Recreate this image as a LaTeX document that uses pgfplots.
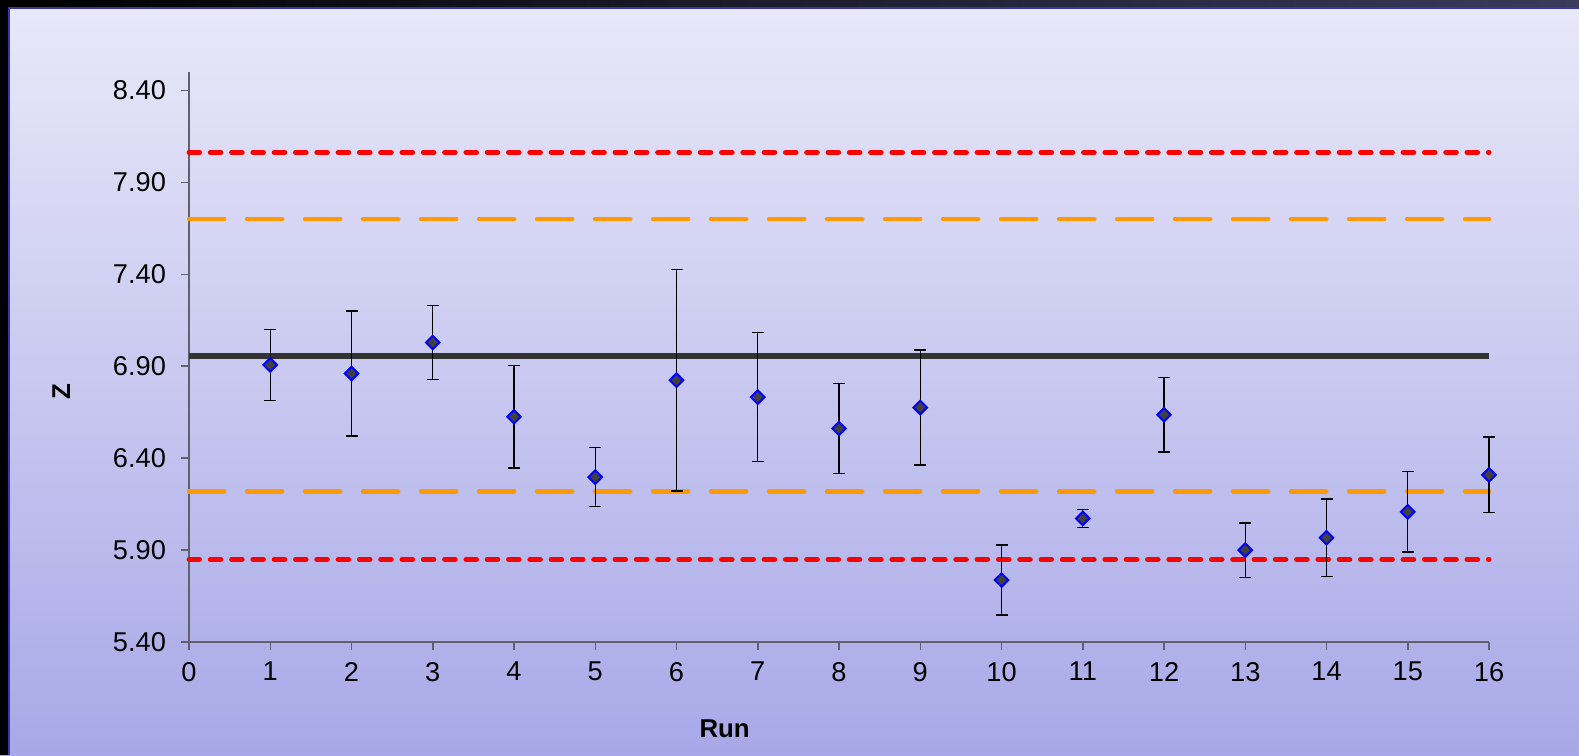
\documentclass[border=0pt]{standalone}
\usepackage{pgfplots}
\pgfplotsset{compat=1.18}
\usepackage{pgfplotstable}
\usepackage{fontspec}
\setmainfont{Liberation Sans}
\definecolor{bgtop}{RGB}{233,233,249}
\definecolor{bgbot}{RGB}{168,168,232}
\definecolor{framedark}{RGB}{58,58,92}
\definecolor{frameblue}{RGB}{56,56,160}
\definecolor{axisgray}{RGB}{96,96,110}
\definecolor{redline}{RGB}{255,0,0}
\definecolor{orangeline}{RGB}{255,153,0}
\definecolor{meanline}{RGB}{51,51,51}
\definecolor{markfill}{RGB}{64,64,64}
\definecolor{markedge}{RGB}{0,0,255}

\pgfplotstableread{
x y e
1 6.907 0.192
2 6.860 0.340
3 7.029 0.200
4 6.625 0.278
5 6.297 0.160
6 6.824 0.602
7 6.732 0.351
8 6.561 0.245
9 6.675 0.313
10 5.737 0.190
11 6.072 0.050
12 6.636 0.202
13 5.900 0.148
14 5.967 0.211
15 6.108 0.218
16 6.309 0.206
}\data

\begin{document}
\begin{tikzpicture}
\useasboundingbox (0,0) rectangle (789.5pt,377.5pt);
\shade[top color=bgtop, bottom color=bgbot] (0,0) rectangle (789.5pt,377.5pt);
% frame
\shade[left color=black, right color=framedark] (0,374pt) rectangle (789.5pt,377.5pt);
\fill[black] (0,0) rectangle (4pt,377.5pt);
\draw[frameblue, line width=1pt] (4.5pt,0) -- (4.5pt,373.5pt) -- (789.5pt,373.5pt);
\begin{axis}[
  at={(94.5pt,56.5pt)}, anchor=south west,
  scale only axis, width=650pt, height=285pt,
  xmin=0, xmax=16, ymin=5.4, ymax=8.5,
  enlargelimits=false,
  axis lines*=left,
  axis line style={draw=axisgray, line width=0.75pt},
  tick align=outside,
  major tick length=4pt,
  tick style={draw=axisgray, line width=0.75pt},
  xtick={0,1,...,16},
  ytick={5.4,5.9,6.4,6.9,7.4,7.9,8.4},
  yticklabel style={/pgf/number format/.cd, fixed, fixed zerofill, precision=2, /tikz/.cd, xshift=-4pt},
  xticklabel style={yshift=-2.5pt},
  /pgf/number format/assume math mode=true,
  ticklabel style={font=\fontsize{13.6}{16}\selectfont, text=black},
  xlabel={Run}, ylabel={Z},
  xlabel style={at={(axis description cs:0.412,-0.1684)}, anchor=base, font=\fontsize{12.9}{15}\selectfont\bfseries},
  ylabel style={at={(axis description cs:-0.0915,0.439)}, anchor=base, font=\fontsize{12.9}{15}\selectfont\bfseries},
  clip=false,
]
\addplot[redline, line width=2.5pt, line cap=round, dash pattern=on 5.3pt off 5.35pt] coordinates {(0,8.063) (16,8.063)};
\addplot[redline, line width=2.5pt, line cap=round, dash pattern=on 5.3pt off 5.35pt] coordinates {(0,5.849) (16,5.849)};
\addplot[orangeline, line width=2.3pt, line cap=round, dash pattern=on 17.6pt off 11.4pt] coordinates {(0,7.700) (16,7.700)};
\addplot[orangeline, line width=2.3pt, line cap=round, dash pattern=on 17.6pt off 11.4pt] coordinates {(0,6.217) (16,6.217)};
\addplot[meanline, line width=2.8pt] coordinates {(0,6.956) (16,6.956)};
\addplot[draw=none, mark=none,
  error bars/.cd, y dir=both, y explicit,
  error bar style={draw=black, line width=0.65pt},
  error mark options={draw=black, mark size=3pt, line width=0.65pt, rotate=90}]
  table[x=x, y=y, y error=e] {\data};
\addplot[only marks, mark=square*, mark size=2.4pt,
  mark options={rotate=45, fill=markfill, draw=markedge, line width=1pt}]
  table[x=x, y=y] {\data};
\end{axis}
\end{tikzpicture}
\end{document}
